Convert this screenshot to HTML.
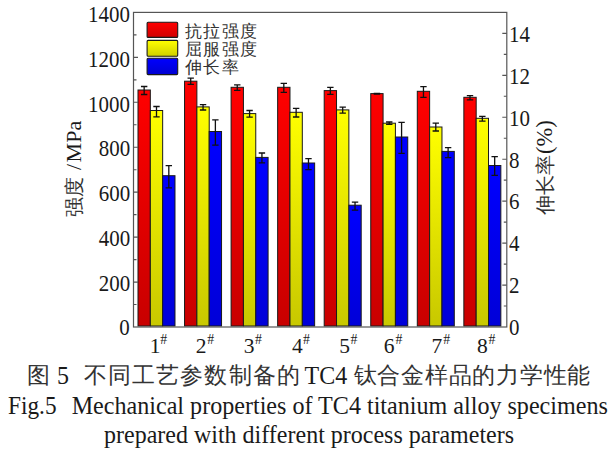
<!DOCTYPE html>
<html><head><meta charset="utf-8"><style>
html,body{margin:0;padding:0;background:#fff;width:616px;height:452px;overflow:hidden}
body{position:relative;font-family:"Liberation Serif",serif;color:#1a1a1a}
svg{position:absolute;left:0;top:0}
.t{position:absolute;white-space:nowrap;font-size:21.5px;line-height:20px}
.c{font-weight:300;color:#333}
.yl{right:486px;text-align:right;transform-origin:100% 50%;transform:scale(0.975,1.055)}
.yr{left:509.3px;transform-origin:0 50%;transform:scale(0.975,1.055)}
.xl{top:335.5px}
.xh{top:330px;font-size:13.8px}
.xl sup{font-size:14.5px;vertical-align:0;position:relative;top:-9px;margin-left:-0.8px}
.leg{left:184.5px;font-size:17px;letter-spacing:1.5px;line-height:18.25px;top:22.9px}
.ytl{font-size:22px;left:64px;top:120px;transform-origin:0 0;transform:rotate(-90deg) translate(-97px,0)}
.ytr{font-size:22.5px;left:535px;top:121px;transform-origin:0 0;transform:rotate(-90deg) translate(-94px,0)}
.cap{font-size:24px;line-height:30px}
.lt{transform-origin:0 23px;transform:scaleY(1.06)}
.cj{font-size:22.5px;letter-spacing:1.1px}
</style></head><body>
<svg width="616" height="452" viewBox="0 0 616 452">
<defs>
<linearGradient id="gr" x1="0" y1="0" x2="0" y2="1"><stop offset="0" stop-color="#ff0000"/><stop offset="1" stop-color="#c80000"/></linearGradient>
<linearGradient id="gy" x1="0" y1="0" x2="0" y2="1"><stop offset="0" stop-color="#ffff00"/><stop offset="1" stop-color="#c8c800"/></linearGradient>
<linearGradient id="gb" x1="0" y1="0" x2="0" y2="1"><stop offset="0" stop-color="#0000ff"/><stop offset="1" stop-color="#0000d8"/></linearGradient>
<linearGradient id="lr" x1="0" y1="0" x2="0" y2="1"><stop offset="0" stop-color="#ff0000"/><stop offset="1" stop-color="#d00000"/></linearGradient>
<linearGradient id="ly" x1="0" y1="0" x2="0" y2="1"><stop offset="0" stop-color="#ffff00"/><stop offset="1" stop-color="#d0d000"/></linearGradient>
<linearGradient id="lb" x1="0" y1="0" x2="0" y2="1"><stop offset="0" stop-color="#0000ff"/><stop offset="1" stop-color="#0000d0"/></linearGradient>
</defs>
<rect x="138.00" y="90.00" width="12.33" height="236.00" fill="url(#gr)" stroke="#1a1a1a" stroke-width="1"/>
<rect x="150.33" y="110.50" width="12.33" height="215.50" fill="url(#gy)" stroke="#1a1a1a" stroke-width="1"/>
<rect x="162.66" y="175.70" width="12.33" height="150.30" fill="url(#gb)" stroke="#1a1a1a" stroke-width="1"/>
<path d="M144.16 86.50V94.50M140.97 86.50H147.36M140.97 94.50H147.36" stroke="#111" stroke-width="1.3" fill="none"/>
<path d="M156.50 106.50V116.80M153.30 106.50H159.69M153.30 116.80H159.69" stroke="#111" stroke-width="1.3" fill="none"/>
<path d="M168.82 165.70V187.80M165.62 165.70H172.02M165.62 187.80H172.02" stroke="#111" stroke-width="1.3" fill="none"/>
<rect x="184.55" y="81.20" width="12.33" height="244.80" fill="url(#gr)" stroke="#1a1a1a" stroke-width="1"/>
<rect x="196.88" y="106.90" width="12.33" height="219.10" fill="url(#gy)" stroke="#1a1a1a" stroke-width="1"/>
<rect x="209.21" y="131.50" width="12.33" height="194.50" fill="url(#gb)" stroke="#1a1a1a" stroke-width="1"/>
<path d="M190.72 78.20V84.40M187.52 78.20H193.91M187.52 84.40H193.91" stroke="#111" stroke-width="1.3" fill="none"/>
<path d="M203.05 104.70V110.00M199.85 104.70H206.25M199.85 110.00H206.25" stroke="#111" stroke-width="1.3" fill="none"/>
<path d="M215.38 119.80V145.20M212.18 119.80H218.57M212.18 145.20H218.57" stroke="#111" stroke-width="1.3" fill="none"/>
<rect x="231.10" y="87.30" width="12.33" height="238.70" fill="url(#gr)" stroke="#1a1a1a" stroke-width="1"/>
<rect x="243.43" y="113.60" width="12.33" height="212.40" fill="url(#gy)" stroke="#1a1a1a" stroke-width="1"/>
<rect x="255.76" y="157.40" width="12.33" height="168.60" fill="url(#gb)" stroke="#1a1a1a" stroke-width="1"/>
<path d="M237.26 84.80V90.40M234.06 84.80H240.46M234.06 90.40H240.46" stroke="#111" stroke-width="1.3" fill="none"/>
<path d="M249.59 110.50V117.10M246.40 110.50H252.79M246.40 117.10H252.79" stroke="#111" stroke-width="1.3" fill="none"/>
<path d="M261.93 153.00V162.90M258.73 153.00H265.12M258.73 162.90H265.12" stroke="#111" stroke-width="1.3" fill="none"/>
<rect x="277.65" y="87.30" width="12.33" height="238.70" fill="url(#gr)" stroke="#1a1a1a" stroke-width="1"/>
<rect x="289.98" y="112.30" width="12.33" height="213.70" fill="url(#gy)" stroke="#1a1a1a" stroke-width="1"/>
<rect x="302.31" y="163.00" width="12.33" height="163.00" fill="url(#gb)" stroke="#1a1a1a" stroke-width="1"/>
<path d="M283.81 83.30V92.40M280.62 83.30H287.01M280.62 92.40H287.01" stroke="#111" stroke-width="1.3" fill="none"/>
<path d="M296.14 108.30V117.00M292.94 108.30H299.34M292.94 117.00H299.34" stroke="#111" stroke-width="1.3" fill="none"/>
<path d="M308.48 158.70V169.70M305.28 158.70H311.68M305.28 169.70H311.68" stroke="#111" stroke-width="1.3" fill="none"/>
<rect x="324.20" y="90.60" width="12.33" height="235.40" fill="url(#gr)" stroke="#1a1a1a" stroke-width="1"/>
<rect x="336.53" y="109.90" width="12.33" height="216.10" fill="url(#gy)" stroke="#1a1a1a" stroke-width="1"/>
<rect x="348.86" y="205.20" width="12.33" height="120.80" fill="url(#gb)" stroke="#1a1a1a" stroke-width="1"/>
<path d="M330.37 87.30V94.30M327.17 87.30H333.56M327.17 94.30H333.56" stroke="#111" stroke-width="1.3" fill="none"/>
<path d="M342.69 107.20V113.20M339.50 107.20H345.89M339.50 113.20H345.89" stroke="#111" stroke-width="1.3" fill="none"/>
<path d="M355.03 202.20V210.20M351.83 202.20H358.23M351.83 210.20H358.23" stroke="#111" stroke-width="1.3" fill="none"/>
<rect x="370.75" y="93.60" width="12.33" height="232.40" fill="url(#gr)" stroke="#1a1a1a" stroke-width="1"/>
<rect x="383.08" y="123.20" width="12.33" height="202.80" fill="url(#gy)" stroke="#1a1a1a" stroke-width="1"/>
<rect x="395.41" y="137.00" width="12.33" height="189.00" fill="url(#gb)" stroke="#1a1a1a" stroke-width="1"/>
<path d="M376.92 93.30V94.00M373.72 93.30H380.12M373.72 94.00H380.12" stroke="#111" stroke-width="1.3" fill="none"/>
<path d="M389.25 122.00V124.40M386.05 122.00H392.44M386.05 124.40H392.44" stroke="#111" stroke-width="1.3" fill="none"/>
<path d="M401.58 122.40V153.40M398.38 122.40H404.78M398.38 153.40H404.78" stroke="#111" stroke-width="1.3" fill="none"/>
<rect x="417.30" y="91.30" width="12.33" height="234.70" fill="url(#gr)" stroke="#1a1a1a" stroke-width="1"/>
<rect x="429.63" y="127.00" width="12.33" height="199.00" fill="url(#gy)" stroke="#1a1a1a" stroke-width="1"/>
<rect x="441.96" y="151.40" width="12.33" height="174.60" fill="url(#gb)" stroke="#1a1a1a" stroke-width="1"/>
<path d="M423.46 86.70V97.30M420.26 86.70H426.66M420.26 97.30H426.66" stroke="#111" stroke-width="1.3" fill="none"/>
<path d="M435.79 123.20V131.00M432.59 123.20H438.99M432.59 131.00H438.99" stroke="#111" stroke-width="1.3" fill="none"/>
<path d="M448.12 147.70V157.70M444.93 147.70H451.32M444.93 157.70H451.32" stroke="#111" stroke-width="1.3" fill="none"/>
<rect x="463.85" y="97.30" width="12.33" height="228.70" fill="url(#gr)" stroke="#1a1a1a" stroke-width="1"/>
<rect x="476.18" y="118.30" width="12.33" height="207.70" fill="url(#gy)" stroke="#1a1a1a" stroke-width="1"/>
<rect x="488.51" y="165.50" width="12.33" height="160.50" fill="url(#gb)" stroke="#1a1a1a" stroke-width="1"/>
<path d="M470.01 95.60V99.90M466.81 95.60H473.21M466.81 99.90H473.21" stroke="#111" stroke-width="1.3" fill="none"/>
<path d="M482.34 116.30V121.20M479.14 116.30H485.54M479.14 121.20H485.54" stroke="#111" stroke-width="1.3" fill="none"/>
<path d="M494.68 156.60V175.30M491.48 156.60H497.88M491.48 175.30H497.88" stroke="#111" stroke-width="1.3" fill="none"/>
<path d="M133.50 304.53h3 M133.50 282.06h4.5 M133.50 259.59h3 M133.50 237.11h4.5 M133.50 214.64h3 M133.50 192.17h4.5 M133.50 169.70h3 M133.50 147.23h4.5 M133.50 124.76h3 M133.50 102.29h4.5 M133.50 79.81h3 M133.50 57.34h4.5 M133.50 34.87h3 M506.80 306.03h-3 M506.80 285.05h-4.5 M506.80 264.08h-3 M506.80 243.11h-4.5 M506.80 222.13h-3 M506.80 201.16h-4.5 M506.80 180.19h-3 M506.80 159.21h-4.5 M506.80 138.24h-3 M506.80 117.27h-4.5 M506.80 96.29h-3 M506.80 75.32h-4.5 M506.80 54.35h-3 M506.80 33.37h-4.5" stroke="#555" stroke-width="1.15" fill="none"/>
<rect x="133.5" y="12.4" width="373.30" height="314.60" fill="none" stroke="#555" stroke-width="1.2"/>
<rect x="147.1" y="22.20" width="30.6" height="15.2" rx="1" fill="url(#lr)" stroke="#1a1a1a" stroke-width="1.1"/>
<rect x="147.1" y="40.40" width="30.6" height="15.8" rx="1" fill="url(#ly)" stroke="#1a1a1a" stroke-width="1.1"/>
<rect x="147.1" y="58.30" width="30.6" height="16.3" rx="1" fill="url(#lb)" stroke="#1a1a1a" stroke-width="1.1"/>
</svg>
<div class="t yl" style="top:318.20px">0</div>
<div class="t yl" style="top:273.50px">200</div>
<div class="t yl" style="top:228.80px">400</div>
<div class="t yl" style="top:184.10px">600</div>
<div class="t yl" style="top:139.40px">800</div>
<div class="t yl" style="top:94.70px">1000</div>
<div class="t yl" style="top:50.00px">1200</div>
<div class="t yl" style="top:5.30px">1400</div>
<div class="t yr" style="top:317.50px">0</div>
<div class="t yr" style="top:275.77px">2</div>
<div class="t yr" style="top:234.04px">4</div>
<div class="t yr" style="top:192.30px">6</div>
<div class="t yr" style="top:150.57px">8</div>
<div class="t yr" style="top:108.84px">10</div>
<div class="t yr" style="top:67.11px">12</div>
<div class="t yr" style="top:25.37px">14</div>
<div class="t xl" style="left:149.7px">1</div>
<div class="t xh" style="left:160.3px">#</div>
<div class="t xl" style="left:195.8px">2</div>
<div class="t xh" style="left:207.2px">#</div>
<div class="t xl" style="left:243.8px">3</div>
<div class="t xh" style="left:255.0px">#</div>
<div class="t xl" style="left:292.1px">4</div>
<div class="t xh" style="left:303.0px">#</div>
<div class="t xl" style="left:339.2px">5</div>
<div class="t xh" style="left:350.5px">#</div>
<div class="t xl" style="left:383.8px">6</div>
<div class="t xh" style="left:395.5px">#</div>
<div class="t xl" style="left:431.5px">7</div>
<div class="t xh" style="left:443.2px">#</div>
<div class="t xl" style="left:477.0px">8</div>
<div class="t xh" style="left:488.6px">#</div>
<div class="t leg c">抗拉强度<br>屈服强度<br>伸长率</div>
<div class="t ytl"><span class="c" style="font-size:19.5px">强度</span><span style="margin-left:7px">/</span><span style="margin-left:1.5px">MPa</span></div>
<div class="t ytr"><span class="c" style="font-size:20px">伸长率</span><span style="margin-left:1px">(%)</span></div>
<div class="t cap c cj" style="left:27px;top:361px">图</div>
<div class="t cap lt" style="left:57px;top:361px">5</div>
<div class="t cap c cj" style="left:84px;top:361px">不同工艺参数制备的</div>
<div class="t cap lt" style="left:304.5px;top:361px">TC4</div>
<div class="t cap c cj" style="left:353.5px;top:361px;letter-spacing:0.75px">钛合金样品的力学性能</div>
<div class="t cap lt" style="left:7.7px;top:390.7px;transform:scale(0.97,1.06)">Fig.5</div>
<div class="t cap lt" style="left:71.7px;top:390.7px;font-size:24.1px">Mechanical properties of TC4 titanium alloy specimens</div>
<div class="t cap lt" style="left:104px;top:420px">prepared with different process parameters</div>
</body></html>
